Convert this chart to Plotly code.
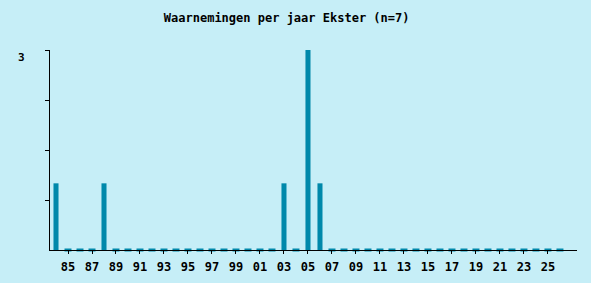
import plotly.graph_objects as go

years = list(range(1984, 2027))
counts = [1, 0, 0, 0, 1, 0, 0, 0, 0, 0, 0, 0, 0, 0, 0, 0, 0, 0, 0, 1, 0, 3, 1,
          0, 0, 0, 0, 0, 0, 0, 0, 0, 0, 0, 0, 0, 0, 0, 0, 0, 0, 0, 0]
tick_years = list(range(1985, 2027, 2))
tick_labels = [f"{y % 100:02d}" for y in tick_years]
y_ticks = [0.75, 1.5, 2.25, 3]
y_max_label = "3"
title = "Waarnemingen per jaar Ekster (n=7)"

bar_color = "#0088AA"
bg = "#C6EEF7"
font = "DejaVu Sans Mono"

zero_years = [y for y, c in zip(years, counts) if c == 0]
zero_vals = [0 for _ in zero_years]

fig = go.Figure()
fig.add_trace(go.Bar(x=years, y=counts, width=0.42, marker_color=bar_color,
                     marker_line_width=0, hoverinfo="x+y"))
fig.add_trace(go.Scatter(x=zero_years, y=zero_vals, mode="markers",
                         marker=dict(symbol="line-ew", size=5,
                                     line=dict(width=3, color=bar_color)),
                         hoverinfo="skip", cliponaxis=False))

fig.update_layout(
    width=591, height=283,
    margin=dict(l=50, r=14, t=50, b=33),
    paper_bgcolor=bg, plot_bgcolor=bg,
    showlegend=False,
    title=dict(text=title, x=0.485, xanchor="center", y=0.937, yanchor="middle",
               font=dict(family=font, size=12, color="black", weight="bold")),
    font=dict(family=font, color="black"),
    annotations=[dict(text=y_max_label, xref="paper", yref="y", x=0, y=max(y_ticks),
                      xanchor="right", yanchor="middle", xshift=-23, yshift=-7,
                      showarrow=False,
                      font=dict(family=font, size=11, color="black", weight="bold"))],
)
fig.update_xaxes(range=[1983.5, 2027.42], tickvals=tick_years, ticktext=tick_labels,
                 ticks="outside", ticklen=3, tickcolor="black", showgrid=False,
                 zeroline=False, showline=True, linecolor="black", linewidth=1,
                 ticklabelstandoff=3, automargin=False,
                 tickfont=dict(family=font, size=12, weight="bold"))
fig.update_yaxes(range=[0, 3], tickvals=y_ticks, showticklabels=False,
                 ticks="outside", ticklen=4, tickcolor="black", showgrid=False,
                 zeroline=False, showline=True, linecolor="black", linewidth=1,
                 automargin=False)

fig.write_html("out.html")
